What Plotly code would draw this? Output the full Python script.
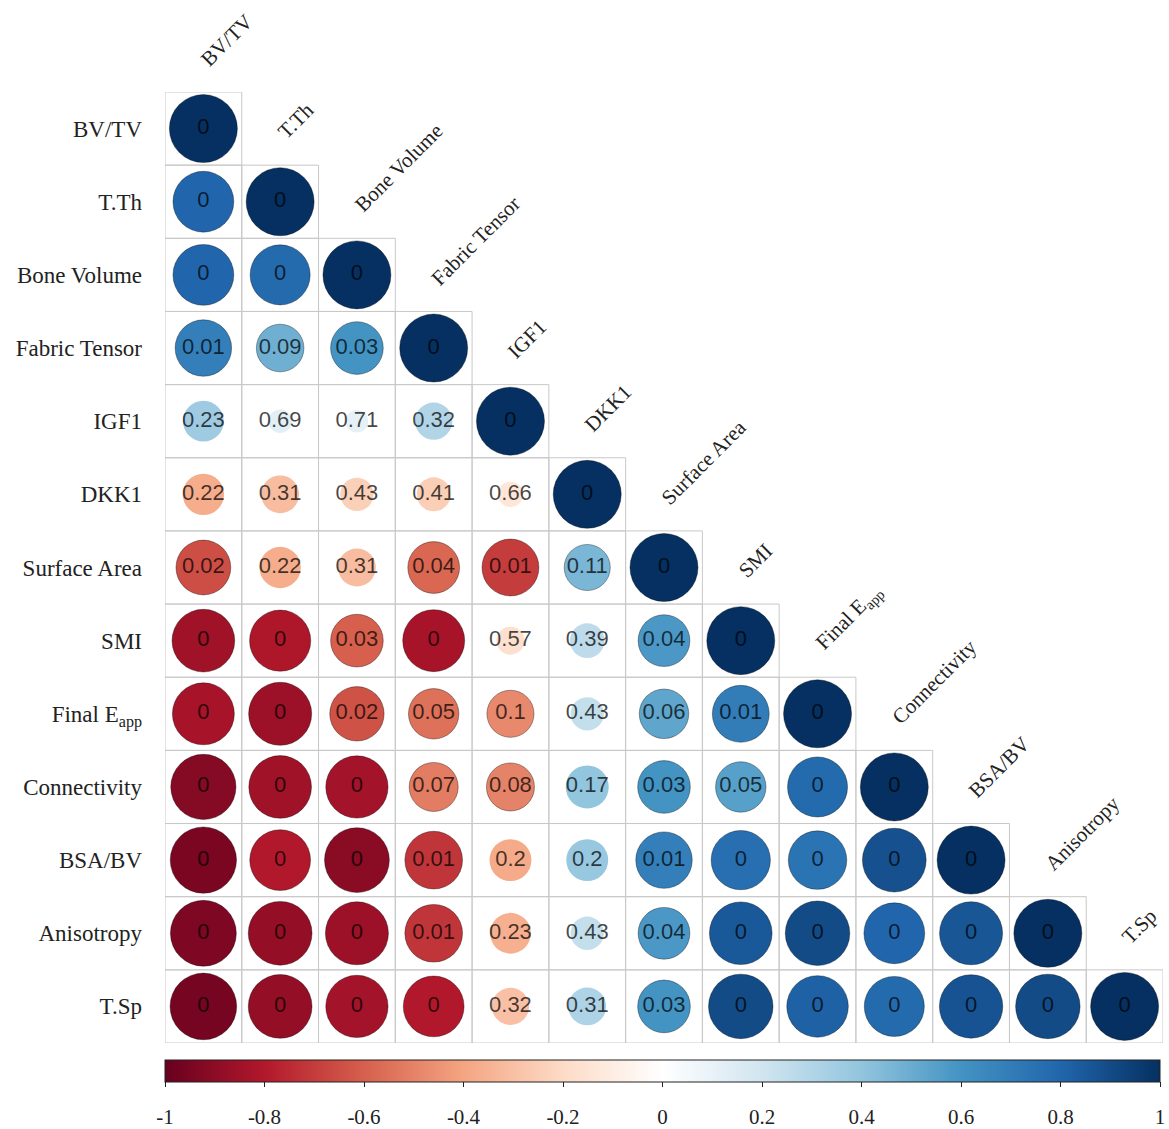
import plotly.graph_objects as go

labels = ["BV/TV", "T.Th", "Bone Volume", "Fabric Tensor", "IGF1", "DKK1",
          "Surface Area", "SMI", "Final E<sub>app</sub>", "Connectivity",
          "BSA/BV", "Anisotropy", "T.Sp"]

# lower-triangle correlation coefficients (row i, columns 0..i)
r_rows = [
    [1.0],
    [0.80, 1.0],
    [0.80, 0.78, 1.0],
    [0.69, 0.49, 0.60, 1.0],
    [0.36, 0.12, 0.11, 0.30, 1.0],
    [-0.37, -0.31, -0.24, -0.25, -0.14, 1.0],
    [-0.65, -0.37, -0.31, -0.58, -0.70, 0.46, 1.0],
    [-0.85, -0.81, -0.60, -0.83, -0.17, 0.26, 0.58, 1.0],
    [-0.83, -0.86, -0.64, -0.55, -0.48, 0.24, 0.53, 0.70, 1.0],
    [-0.92, -0.85, -0.84, -0.52, -0.50, 0.40, 0.60, 0.55, 0.78, 1.0],
    [-0.95, -0.80, -0.91, -0.72, -0.38, 0.38, 0.69, 0.76, 0.74, 0.88, 1.0],
    [-0.94, -0.88, -0.86, -0.72, -0.36, 0.24, 0.58, 0.85, 0.90, 0.80, 0.86, 1.0],
    [-0.96, -0.88, -0.84, -0.80, -0.30, 0.31, 0.60, 0.90, 0.82, 0.78, 0.87, 0.90, 1.0],
]

# p-values printed in each circle
p_rows = [
    [0],
    [0, 0],
    [0, 0, 0],
    [0.01, 0.09, 0.03, 0],
    [0.23, 0.69, 0.71, 0.32, 0],
    [0.22, 0.31, 0.43, 0.41, 0.66, 0],
    [0.02, 0.22, 0.31, 0.04, 0.01, 0.11, 0],
    [0, 0, 0.03, 0, 0.57, 0.39, 0.04, 0],
    [0, 0, 0.02, 0.05, 0.1, 0.43, 0.06, 0.01, 0],
    [0, 0, 0, 0.07, 0.08, 0.17, 0.03, 0.05, 0, 0],
    [0, 0, 0, 0.01, 0.2, 0.2, 0.01, 0, 0, 0, 0],
    [0, 0, 0, 0.01, 0.23, 0.43, 0.04, 0, 0, 0, 0, 0],
    [0, 0, 0, 0, 0.32, 0.31, 0.03, 0, 0, 0, 0, 0, 0],
]

cbar_ticks = [-1, -0.8, -0.6, -0.4, -0.2, 0, 0.2, 0.4, 0.6, 0.8, 1]

rdbu = ["#67001F", "#B2182B", "#D6604D", "#F4A582", "#FDDBC7", "#FFFFFF",
        "#D1E5F0", "#92C5DE", "#4393C3", "#2166AC", "#053061"]
colorscale = [[k / (len(rdbu) - 1), c] for k, c in enumerate(rdbu)]

n = len(labels)
W, H = 1169, 1129
ML, MR, MT, MB = 165, 6, 92, 86
plot_h = H - MT - MB
plot_w = W - ML - MR
row_h = plot_h / n

# colour bar spans these pixel columns
CB_LEFT, CB_RIGHT = 165, 1160
cb_span = CB_RIGHT - CB_LEFT

xs, ys, rs, ps = [], [], [], []
for i, row in enumerate(r_rows):
    for j, r in enumerate(row):
        xs.append(j)
        ys.append(i)
        rs.append(r)
        ps.append(p_rows[i][j])

DMAX = 68
sizes = [DMAX * abs(r) ** 0.5 for r in rs]
line_w = [1 if abs(r) >= 0.45 else 0 for r in rs]
texts = [f"{p:g}" for p in ps]

serif = "Liberation Serif, Times New Roman, serif"

fig = go.Figure()

# cell borders
shapes = []
for i, row in enumerate(r_rows):
    for j in range(len(row)):
        shapes.append(dict(type="rect", xref="x", yref="y",
                           x0=j - 0.5, x1=j + 0.5, y0=i - 0.5, y1=i + 0.5,
                           line=dict(color="#c8c8c8", width=1), layer="below"))

fig.add_trace(go.Scatter(
    x=xs, y=ys, mode="markers+text",
    text=texts, textposition="middle center",
    textfont=dict(family="Liberation Sans, Arial", size=22, color="rgba(0,0,0,0.72)"),
    marker=dict(size=sizes, color=rs, cmin=-1, cmax=1, colorscale=colorscale,
                line=dict(width=line_w, color="rgba(0,0,0,0.35)"), opacity=1,
                showscale=True,
                colorbar=dict(orientation="h",
                              x=((CB_LEFT + CB_RIGHT) / 2 - ML) / plot_w, xanchor="center",
                              y=-7 / plot_h, yanchor="top",
                              lenmode="pixels", len=cb_span + 20, thickness=22,
                              outlinecolor="#222", outlinewidth=1,
                              tickvals=cbar_ticks, showticklabels=False,
                              ticks="outside", ticklen=5, tickcolor="#222")),
    hoverinfo="skip", showlegend=False,
))

# overlaid axis carrying the colour-bar tick labels
fig.add_trace(go.Scatter(x=cbar_ticks, y=[None] * len(cbar_ticks), xaxis="x2", yaxis="y",
                         mode="markers", hoverinfo="skip", showlegend=False))

annotations = []
for k, lab in enumerate(labels):
    annotations.append(dict(x=k, y=k, xref="x", yref="y", text=lab,
                            showarrow=False, textangle=-45,
                            xanchor="left", yanchor="bottom",
                            xshift=-10, yshift=row_h - 18,
                            font=dict(family=serif, size=21, color="#222")))

fig.update_layout(
    width=W, height=H,
    margin=dict(l=ML, r=MR, t=MT, b=MB, autoexpand=False),
    paper_bgcolor="white", plot_bgcolor="white",
    shapes=shapes, annotations=annotations,
    xaxis=dict(range=[-0.5, n - 0.5], showgrid=False, zeroline=False,
               showticklabels=False, showline=False, fixedrange=True),
    xaxis2=dict(range=[-1, -1 + 2 * plot_w / cb_span], overlaying="x",
                anchor="free", position=0,
                side="bottom", tickvals=cbar_ticks, ticktext=[f"{t:g}" for t in cbar_ticks],
                ticks="", showgrid=False, zeroline=False, showline=False,
                ticklabelstandoff=59, fixedrange=True,
                tickfont=dict(family=serif, size=21, color="#222")),
    yaxis=dict(range=[n - 0.5, -0.5], showgrid=False, zeroline=False,
               tickvals=list(range(n)), ticktext=labels, ticks="",
               ticklabelstandoff=22, showline=False, fixedrange=True,
               tickfont=dict(family=serif, size=23, color="#222")),
)

fig.write_html("out.html")
